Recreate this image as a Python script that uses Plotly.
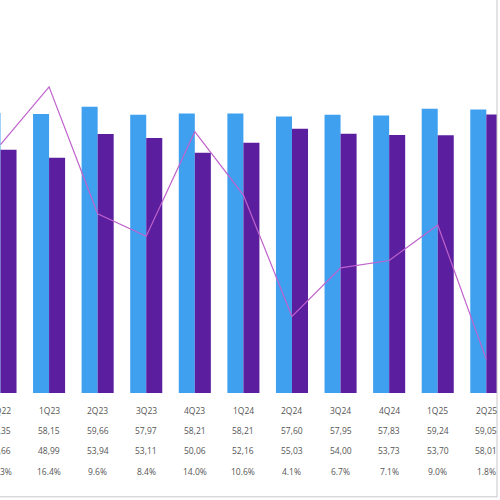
import plotly.graph_objects as go
from plotly.subplots import make_subplots

quarters = ["4Q22", "1Q23", "2Q23", "3Q23", "4Q23", "1Q24",
            "2Q24", "3Q24", "4Q24", "1Q25", "2Q25"]
series_a = [58.35, 58.15, 59.66, 57.97, 58.21, 58.21,
            57.60, 57.95, 57.83, 59.24, 59.05]
series_b = [50.66, 48.99, 53.94, 53.11, 50.06, 52.16,
            55.03, 54.00, 53.73, 53.70, 58.01]
pct = [13.3, 16.4, 9.6, 8.4, 14.0, 10.6, 4.1, 6.7, 7.1, 9.0, 1.8]

fig = make_subplots(specs=[[{"secondary_y": True}]])

fig.add_trace(go.Bar(x=quarters, y=series_a, name="A",
                     marker=dict(color="#3FA0F0", line=dict(width=0))),
              secondary_y=False)
fig.add_trace(go.Bar(x=quarters, y=series_b, name="B",
                     marker=dict(color="#5B1E9F", line=dict(width=0))),
              secondary_y=False)
fig.add_trace(go.Scatter(x=quarters, y=pct, name="%", mode="lines",
                         line=dict(color="#BF62CC", width=1.2)),
              secondary_y=True)

# data table under the chart
rows = [
    quarters,
    [f"{v:.2f}".replace(".", ",") for v in series_a],
    [f"{v:.2f}".replace(".", ",") for v in series_b],
    [f"{v:.1f}%" for v in pct],
]
row_y = [-0.074, -0.134, -0.194, -0.256]
for r, texts in enumerate(rows):
    for q, t in zip(quarters, texts):
        fig.add_annotation(x=q, y=row_y[r], xref="x", yref="paper",
                           text=t, showarrow=False,
                           font=dict(family="Open Sans", size=8.5, color="#555555"))

# frame lines at right and bottom
fig.add_shape(type="line", xref="paper", yref="paper", x0=1.0, x1=1.0,
              y0=-0.31, y1=1.2, line=dict(color="#c8c8c8", width=1))
fig.add_shape(type="line", xref="paper", yref="paper", x0=-0.01, x1=1.0,
              y0=-0.309, y1=-0.309, line=dict(color="#c8c8c8", width=1))

fig.update_layout(
    width=500, height=500,
    margin=dict(l=0, r=3, t=57, b=107),
    paper_bgcolor="white", plot_bgcolor="white",
    barmode="group", bargap=0.34, bargroupgap=0,
    showlegend=False,
)
fig.update_xaxes(range=[-0.01, 10.22], domain=[0, 1], showticklabels=False,
                 showgrid=False, zeroline=False, showline=False, ticks="")
fig.update_yaxes(range=[0, 70], dtick=70, showticklabels=False,
                 gridcolor="#f6ecef", zeroline=False, secondary_y=False)
fig.update_yaxes(range=[0, 18], showticklabels=False, showgrid=False,
                 zeroline=False, secondary_y=True)

fig.write_html("out.html", config={"displayModeBar": False},
               post_script="document.body.style.margin='0';")
